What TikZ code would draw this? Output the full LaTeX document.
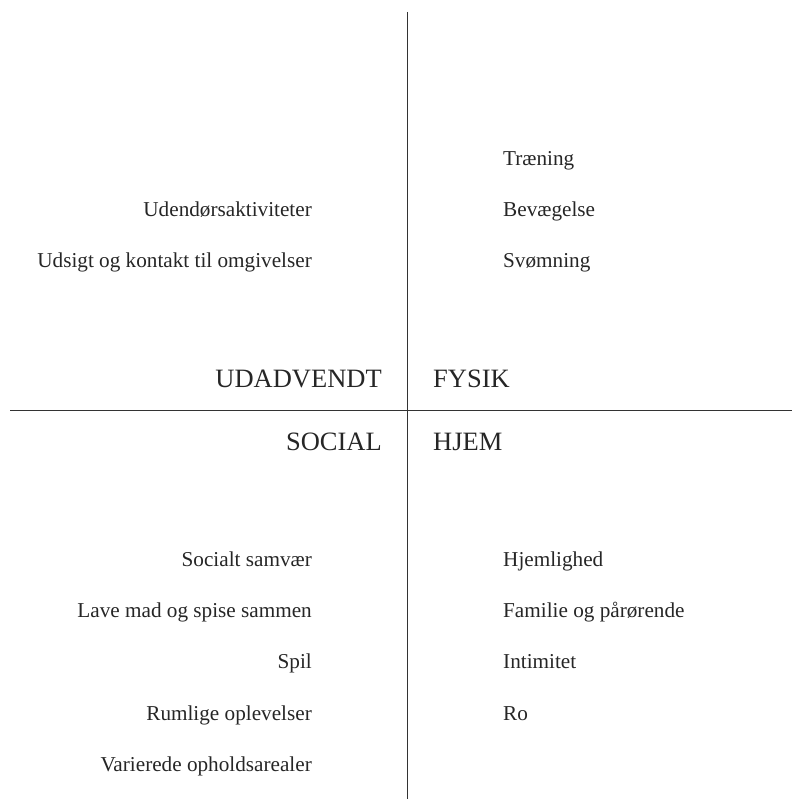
\documentclass[tikz,border=0pt]{standalone}
\usepackage{fontspec}
\setmainfont{Liberation Serif}
\begin{document}
\begin{tikzpicture}[x=1pt,y=-1pt,
  item/.style={inner sep=0pt,font=\fontsize{21.2}{24}\selectfont,text=black!85},
  head/.style={inner sep=0pt,font=\fontsize{26.5}{30}\selectfont,text=black!85},
  axis/.style={draw=black!80,line width=1pt}]
\useasboundingbox (0,0) rectangle (792,799);
\coordinate (vt) at (407,12);
\coordinate (vb) at (407,799);
\coordinate (hl) at (10,410);
\coordinate (hr) at (792,410);
\draw[axis] (vt) -- (vb);
\draw[axis] (hl) -- (hr);
% top right
\node[item,anchor=base west] (t1) at (503,166) {Træning};
\node[item,anchor=base west] (t2) at (503,217) {Bevægelse};
\node[item,anchor=base west] (t3) at (503,268) {Svømning};
% top left
\node[item,anchor=base east] (u1) at (312,217) {Udendørsaktiviteter};
\node[item,anchor=base east] (u2) at (312,268) {Udsigt og kontakt til omgivelser};
% headers
\node[head,anchor=base east] (udadvendt) at (382,387) {UDADVENDT};
\node[head,anchor=base west] (fysik) at (433,387) {FYSIK};
\node[head,anchor=base east] (social) at (382,450) {SOCIAL};
\node[head,anchor=base west] (hjem) at (433,450) {HJEM};
% bottom left
\node[item,anchor=base east] (s1) at (312,566) {Socialt samvær};
\node[item,anchor=base east] (s2) at (312,617) {Lave mad og spise sammen};
\node[item,anchor=base east] (s3) at (312,668) {Spil};
\node[item,anchor=base east] (s4) at (312,720) {Rumlige oplevelser};
\node[item,anchor=base east] (s5) at (312,771) {Varierede opholdsarealer};
% bottom right
\node[item,anchor=base west] (h1) at (503,566) {Hjemlighed};
\node[item,anchor=base west] (h2) at (503,617) {Familie og pårørende};
\node[item,anchor=base west] (h3) at (503,668) {Intimitet};
\node[item,anchor=base west] (h4) at (503,720) {Ro};
\end{tikzpicture}
\end{document}
